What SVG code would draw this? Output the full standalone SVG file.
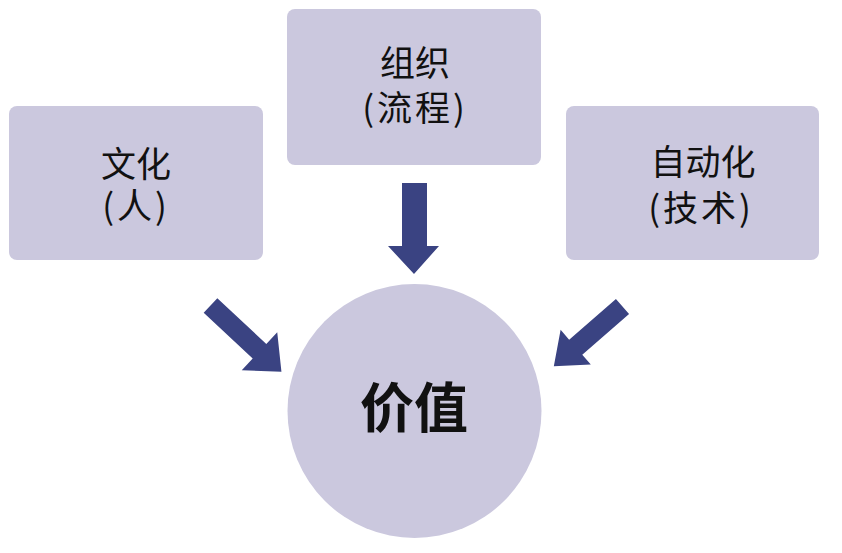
<svg xmlns="http://www.w3.org/2000/svg" width="842" height="553" viewBox="0 0 842 553">
<style>
.box{fill:#cbc8de;}
.lbl{font-family:"Noto Sans CJK SC","Noto Sans",sans-serif;font-size:35px;fill:#111;text-anchor:middle;}
.big{font-family:"Noto Sans CJK SC","Noto Sans",sans-serif;font-size:54px;font-weight:bold;fill:#111;text-anchor:middle;}
.arr{fill:#3a4382;}
</style>
<rect width="842" height="553" fill="#ffffff"/>
<g id="culture">
<rect class="box" x="9" y="106" width="254" height="154" rx="8"/>
<text class="lbl" x="136" y="177">文化<tspan x="136" dy="42" letter-spacing="3">(人)</tspan></text>
</g>
<g id="organization">
<rect class="box" x="287" y="9" width="254" height="156" rx="8"/>
<text class="lbl" x="415" y="76">组织<tspan x="415" dy="45" letter-spacing="3">(流程)</tspan></text>
</g>
<g id="automation">
<rect class="box" x="566" y="106" width="253" height="154" rx="8"/>
<text class="lbl" x="703" y="175">自动化<tspan x="701" dy="46" letter-spacing="3">(技术)</tspan></text>
</g>
<g id="value">
<circle class="box" cx="414.5" cy="411" r="127"/>
<text class="big" x="414" y="428">价值</text>
</g>
<g id="connectors">
<polygon class="arr" points="402,183 427,183 427,246 439,246 414,274 388,246 402,246"/>
<polygon class="arr" transform="translate(210.5,305.5) rotate(43)" points="0,-10 67,-10 67,-26 97,0 67,26 67,10 0,10"/>
<polygon class="arr" transform="translate(622.5,306.5) rotate(139)" points="0,-10 62,-10 62,-23 91,0 62,23 62,10 0,10"/>
</g>
</svg>
